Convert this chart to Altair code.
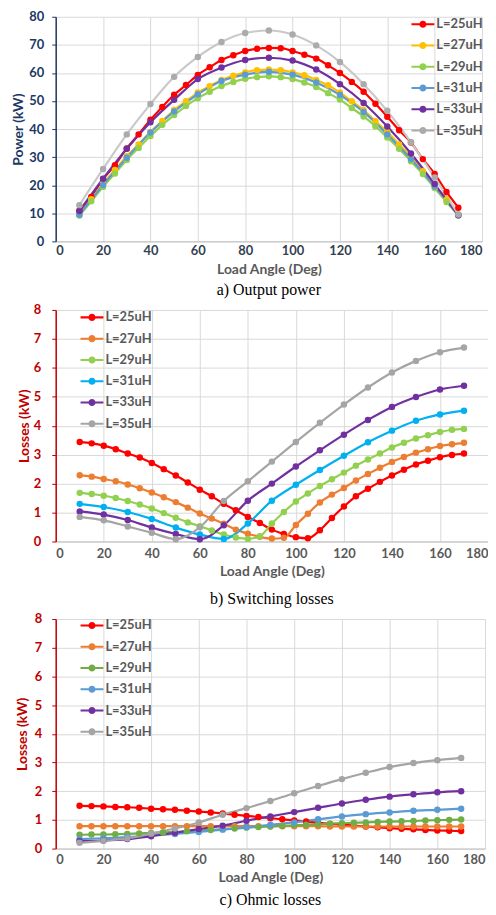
import altair as alt
import pandas as pd

SERIES = ["L=25uH", "L=27uH", "L=29uH", "L=31uH", "L=33uH", "L=35uH"]
ANGLE_5 = [10, 15, 20, 25, 30, 35, 40, 45, 50, 55, 60, 65, 70, 75, 80, 85, 90,
           95, 100, 105, 110, 115, 120, 125, 130, 135, 140, 145, 150, 155, 160, 165, 170]
ANGLE_10 = [10, 20, 30, 40, 50, 60, 70, 80, 90, 100, 110, 120, 130, 140, 150, 160, 170]
X_TICKS = [0, 20, 40, 60, 80, 100, 120, 140, 160, 180]
POWER_TICKS = [0, 10, 20, 30, 40, 50, 60, 70, 80]
LOSS_TICKS = [0, 1, 2, 3, 4, 5, 6, 7, 8]

# a) Output power (kW)
POWER_25 = [10.9, 15.8, 22.2, 27.1, 33.1, 38.1, 43.3, 47.9, 52.2, 55.7, 59.3, 62.0, 64.6, 66.3, 67.8,
            68.6, 68.9, 68.8, 67.8, 66.5, 65.1, 62.7, 60.0, 56.8, 53.3, 49.0, 44.4, 39.6, 35.2, 29.3, 24.0, 17.6, 12.0]
POWER_27 = [9.5, 15.0, 20.5, 25.4, 30.3, 34.5, 39.0, 42.9, 46.8, 49.9, 53.0, 55.3, 57.5, 59.0, 60.2,
            61.0, 61.2, 61.0, 60.2, 59.2, 57.5, 55.6, 53.0, 49.9, 46.8, 42.8, 39.0, 34.5, 30.3, 25.0, 20.0, 14.8, 9.5]
POWER_29 = [9.2, 14.3, 19.4, 24.2, 29.0, 33.3, 37.5, 41.5, 45.0, 48.2, 51.0, 53.3, 55.3, 56.8, 57.9,
            58.5, 58.8, 58.5, 57.8, 56.6, 55.0, 52.8, 50.5, 47.5, 44.5, 41.0, 37.0, 33.0, 28.5, 24.0, 19.0, 14.0, 9.2]
POWER_31 = [9.5, 20.1, 29.8, 38.8, 46.3, 52.4, 57.1, 59.4, 60.4, 59.4, 56.6, 52.2, 46.1, 38.1, 29.3, 19.6, 9.5]
POWER_33 = [10.8, 22.3, 33.0, 42.4, 50.4, 57.8, 61.9, 64.6, 65.4, 64.4, 61.2, 56.0, 49.3, 40.9, 31.3, 20.4, 9.3]
POWER_35 = [12.9, 25.8, 38.1, 48.9, 58.6, 65.7, 71.0, 74.2, 75.1, 73.7, 69.8, 63.9, 56.0, 46.5, 35.3, 22.8, 9.6]

# b) Switching losses (kW)
SW_25 = [3.44, 3.39, 3.31, 3.19, 3.04, 2.90, 2.71, 2.50, 2.28, 2.04, 1.79, 1.56, 1.30, 1.08, 0.85,
         0.64, 0.41, 0.26, 0.15, 0.11, 0.39, 0.81, 1.21, 1.56, 1.82, 2.06, 2.28, 2.48, 2.66, 2.79, 2.91, 2.99, 3.04]
SW_27 = [2.29, 2.24, 2.16, 2.08, 1.97, 1.84, 1.69, 1.53, 1.36, 1.17, 0.97, 0.79, 0.61, 0.41, 0.27,
         0.16, 0.10, 0.13, 0.57, 0.96, 1.35, 1.62, 1.85, 2.11, 2.33, 2.55, 2.75, 2.92, 3.07, 3.19, 3.30, 3.36, 3.41]
SW_29 = [1.68, 1.64, 1.58, 1.50, 1.40, 1.28, 1.14, 0.98, 0.82, 0.66, 0.53, 0.38, 0.24, 0.14, 0.09,
         0.18, 0.62, 1.02, 1.38, 1.66, 1.92, 2.15, 2.38, 2.62, 2.83, 3.04, 3.25, 3.41, 3.56, 3.67, 3.78, 3.86, 3.89]
SW_31 = [1.30, 1.19, 1.02, 0.78, 0.48, 0.24, 0.09, 0.62, 1.41, 1.96, 2.47, 2.96, 3.43, 3.83, 4.17, 4.39, 4.52]
SW_33 = [1.04, 0.93, 0.74, 0.48, 0.26, 0.08, 0.56, 1.41, 2.00, 2.59, 3.15, 3.69, 4.20, 4.65, 4.99, 5.25, 5.38]
SW_35 = [0.85, 0.73, 0.52, 0.30, 0.08, 0.49, 1.40, 2.08, 2.76, 3.44, 4.10, 4.73, 5.32, 5.84, 6.24, 6.54, 6.70]

# c) Ohmic losses (kW)
OH_25 = [1.49, 1.48, 1.47, 1.45, 1.44, 1.42, 1.39, 1.37, 1.35, 1.32, 1.29, 1.26, 1.22, 1.18, 1.14,
         1.10, 1.06, 1.02, 0.98, 0.94, 0.90, 0.86, 0.83, 0.80, 0.77, 0.74, 0.71, 0.69, 0.67, 0.65, 0.63, 0.62, 0.61]
OH_27 = [0.78, 0.78, 0.78, 0.78, 0.78, 0.78, 0.78, 0.78, 0.78, 0.78, 0.78, 0.78, 0.78, 0.78, 0.78,
         0.78, 0.78, 0.78, 0.78, 0.78, 0.78, 0.77, 0.77, 0.77, 0.77, 0.77, 0.77, 0.77, 0.77, 0.77, 0.77, 0.77, 0.77]
OH_29 = [0.48, 0.49, 0.49, 0.50, 0.51, 0.53, 0.54, 0.56, 0.58, 0.60, 0.63, 0.65, 0.68, 0.70, 0.73,
         0.75, 0.77, 0.79, 0.81, 0.83, 0.85, 0.87, 0.88, 0.90, 0.91, 0.93, 0.94, 0.95, 0.96, 0.98, 0.99, 1.00, 1.01]
OH_31 = [0.33, 0.36, 0.40, 0.45, 0.51, 0.58, 0.66, 0.74, 0.83, 0.91, 1.02, 1.12, 1.20, 1.26, 1.32, 1.35, 1.39]
OH_33 = [0.26, 0.28, 0.33, 0.43, 0.55, 0.68, 0.80, 0.97, 1.12, 1.27, 1.42, 1.57, 1.70, 1.81, 1.89, 1.96, 2.00]
OH_35 = [0.20, 0.27, 0.35, 0.52, 0.70, 0.91, 1.18, 1.41, 1.66, 1.93, 2.18, 2.42, 2.64, 2.84, 2.98, 3.08, 3.16]

TOP_LINE = ["#FF0000", "#FFC000", "#92D050", "#5B9BD5", "#7030A0", "#C9C9C9"]
TOP_POINT = ["#FF0000", "#FFC000", "#92D050", "#5B9BD5", "#7030A0", "#ABABAB"]
MID_COL = ["#FF0000", "#ED7D31", "#92D050", "#00B0F0", "#7030A0", "#A5A5A5"]
BOT_COL = ["#FF0000", "#ED7D31", "#70AD47", "#5B9BD5", "#7030A0", "#A5A5A5"]

FONT = "Lato"
LEG_PATH = ("M-1,-0.09L1,-0.09L1,0.09L-1,0.09Z "
            "M0.31,0A0.31,0.31,0,1,1,-0.31,0A0.31,0.31,0,1,1,0.31,0Z")


def frame(series_values):
    rows = []
    for name, vals in zip(SERIES, series_values):
        xs = ANGLE_5 if len(vals) == len(ANGLE_5) else ANGLE_10
        for a, v in zip(xs, vals):
            rows.append({"series": name, "angle": a, "value": v})
    return pd.DataFrame(rows)


def panel(df, line_cols, point_cols, ytitle, ycolor, ymax, yticks, xlabcol,
          width, height, leg_x, leg_y, caption, y_label_pad, y_title_pad,
          x_label_pad, x_title_pad, cap_offset):
    x = alt.X("angle:Q", scale=alt.Scale(domain=[0, 180], nice=False),
              axis=alt.Axis(values=X_TICKS, title="Load Angle (Deg)", ticks=False, tickSize=0,
                            domainColor="#BFBFBF", domainWidth=1, grid=True, gridColor="#D9D9D9",
                            labelFont=FONT, labelFontSize=13, labelFontWeight="bold",
                            labelColor=xlabcol, labelPadding=x_label_pad, titleFont=FONT,
                            titleFontSize=14, titleFontWeight="bold", titleColor="#595959",
                            titlePadding=x_title_pad))
    y = alt.Y("value:Q", scale=alt.Scale(domain=[0, ymax], nice=False),
              axis=alt.Axis(values=yticks, title=ytitle, ticks=True, tickSize=4, tickColor=ycolor,
                            domainColor=ycolor, domainWidth=1.5, grid=True, gridColor="#D9D9D9",
                            labelFont=FONT, labelFontSize=13, labelFontWeight="bold",
                            labelColor=ycolor, labelPadding=y_label_pad, titleFont=FONT,
                            titleFontSize=14, titleFontWeight="bold", titleColor=ycolor,
                            titlePadding=y_title_pad))
    lines = alt.Chart(df).mark_line(interpolate="monotone", strokeWidth=2.2).encode(
        x=x, y=y,
        color=alt.Color("series:N", scale=alt.Scale(domain=SERIES, range=line_cols), legend=None),
    )
    points = alt.Chart(df).mark_circle(size=42, opacity=1).encode(
        x=x, y=y,
        color=alt.Color("series:N", scale=alt.Scale(domain=SERIES, range=point_cols),
                        legend=alt.Legend(orient="none", legendX=leg_x, legendY=leg_y, title=None,
                                          symbolType=LEG_PATH, symbolSize=529, symbolStrokeWidth=0,
                                          symbolOpacity=1, labelFont=FONT, labelFontSize=13,
                                          labelFontWeight="bold", labelColor="#595959",
                                          labelOffset=2, rowPadding=2.4, padding=0)),
    )
    return alt.layer(lines, points).resolve_scale(color="independent").properties(
        width=width, height=height,
        title=alt.TitleParams(caption, orient="bottom", anchor="middle", frame="group",
                              font="Liberation Serif", fontSize=16, fontWeight="normal",
                              color="black", offset=cap_offset),
    )


top = panel(frame([POWER_25, POWER_27, POWER_29, POWER_31, POWER_33, POWER_35]),
            TOP_LINE, TOP_POINT, "Power (kW)", "#203864", 80, POWER_TICKS, "#333F50",
            429, 226, 358, -4, "a) Output power", 8, 3, 3, 5, 6)
mid = panel(frame([SW_25, SW_27, SW_29, SW_31, SW_33, SW_35]),
            MID_COL, MID_COL, "Losses (kW)", "#C00000", 8, LOSS_TICKS, "#595959",
            435, 233, 25, -4, "b) Switching losses", 11, 2, 6, 4, 13)
bot = panel(frame([OH_25, OH_27, OH_29, OH_31, OH_33, OH_35]),
            BOT_COL, BOT_COL, "Losses (kW)", "#C00000", 8, LOSS_TICKS, "#595959",
            432, 231, 25, -5, "c) Ohmic losses", 10, 5, 5, 4, 8)

chart = alt.vconcat(top, mid, bot, spacing=6).properties(
    padding={"left": 3, "top": 0, "right": 0, "bottom": 0}
).configure_view(stroke=None)

chart.save("out.html", embed_options={"renderer": "svg", "actions": False})
